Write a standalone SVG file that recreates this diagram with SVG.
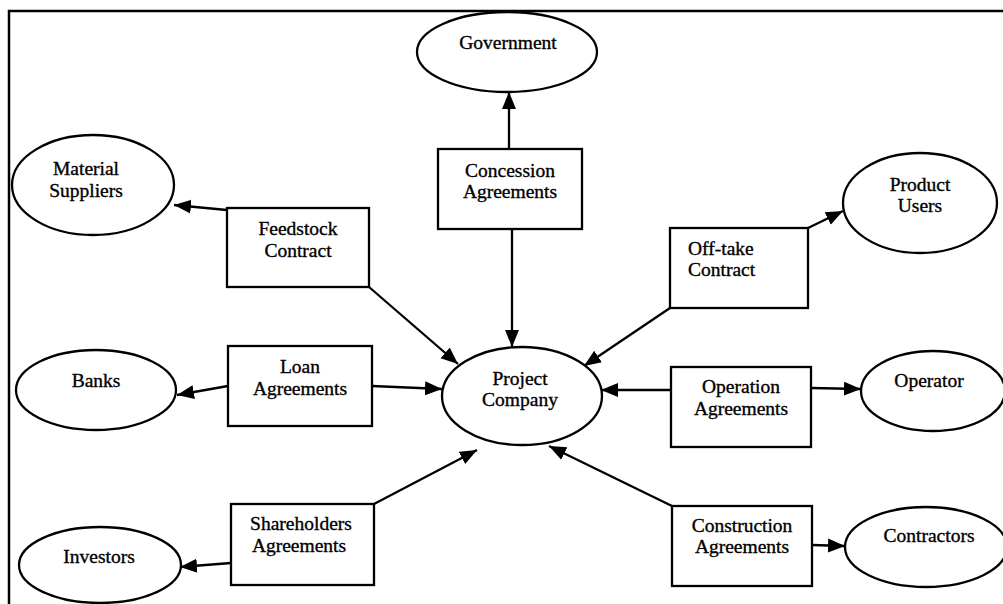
<svg xmlns="http://www.w3.org/2000/svg" width="1003" height="604" viewBox="0 0 1003 604">
<style>
.n{fill:#fff;stroke:#000;stroke-width:2.3}
.t{font-family:"Liberation Serif","Times New Roman",serif;font-size:19.5px;fill:#000;stroke:#000;stroke-width:0.35;text-anchor:middle}
.c{fill:none;stroke:#000;stroke-width:2.3;marker-end:url(#ah)}
</style>
<defs>
<marker id="ah" markerUnits="userSpaceOnUse" markerWidth="18" markerHeight="16" refX="17" refY="8" orient="auto">
<path d="M0,1 L17,8 L0,15 Z" fill="#000"/>
</marker>
</defs>
<rect width="1003" height="604" fill="#fff"/>
<path d="M9,604 V11 H1003" fill="none" stroke="#000" stroke-width="2.5"/>
<g id="connectors">
<line class="c" x1="509" y1="149" x2="509" y2="92"/>
<line class="c" x1="227" y1="210" x2="174" y2="205"/>
<line class="c" x1="369" y1="287" x2="458" y2="364"/>
<line class="c" x1="512" y1="229" x2="512" y2="347"/>
<line class="c" x1="808" y1="228" x2="843" y2="211"/>
<line class="c" x1="670" y1="308" x2="584" y2="366"/>
<line class="c" x1="228" y1="386" x2="177" y2="395"/>
<line class="c" x1="372" y1="386" x2="442" y2="389"/>
<line class="c" x1="671" y1="390" x2="601" y2="390"/>
<line class="c" x1="811" y1="388" x2="861" y2="389"/>
<line class="c" x1="374" y1="504" x2="477" y2="450"/>
<line class="c" x1="231" y1="563" x2="180" y2="567"/>
<line class="c" x1="672" y1="506" x2="549" y2="446"/>
<line class="c" x1="812" y1="545" x2="845" y2="546"/>
</g>
<g id="government"><ellipse class="n" cx="507" cy="52" rx="90" ry="40"/><text class="t" x="508" y="49">Government</text></g>
<g id="material-suppliers"><ellipse class="n" cx="93" cy="185" rx="81" ry="50"/><text class="t" x="86" y="175">Material</text><text class="t" x="86" y="197">Suppliers</text></g>
<g id="feedstock-contract"><rect class="n" x="227" y="208" width="142" height="79"/><text class="t" x="298" y="235">Feedstock</text><text class="t" x="298" y="257">Contract</text></g>
<g id="concession-agreements"><rect class="n" x="438" y="149" width="144" height="80"/><text class="t" x="510" y="177">Concession</text><text class="t" x="510" y="198">Agreements</text></g>
<g id="product-users"><ellipse class="n" cx="920" cy="203" rx="77" ry="50"/><text class="t" x="920" y="191">Product</text><text class="t" x="920" y="212">Users</text></g>
<g id="off-take-contract"><rect class="n" x="670" y="228" width="138" height="80"/><text class="t" x="688" y="255" style="text-anchor:start">Off-take</text><text class="t" x="688" y="276" style="text-anchor:start">Contract</text></g>
<g id="banks"><ellipse class="n" cx="96" cy="390" rx="80" ry="40"/><text class="t" x="96" y="387">Banks</text></g>
<g id="loan-agreements"><rect class="n" x="228" y="346" width="144" height="80"/><text class="t" x="300" y="373">Loan</text><text class="t" x="300" y="395">Agreements</text></g>
<g id="project-company"><ellipse class="n" cx="522" cy="396" rx="80" ry="49"/><text class="t" x="520" y="385">Project</text><text class="t" x="520" y="406">Company</text></g>
<g id="operation-agreements"><rect class="n" x="671" y="367" width="140" height="80"/><text class="t" x="741" y="393">Operation</text><text class="t" x="741" y="415">Agreements</text></g>
<g id="operator"><ellipse class="n" cx="933" cy="391" rx="72" ry="40"/><text class="t" x="929" y="387">Operator</text></g>
<g id="shareholders-agreements"><rect class="n" x="231" y="504" width="143" height="81"/><text class="t" x="301" y="530">Shareholders</text><text class="t" x="299" y="552">Agreements</text></g>
<g id="investors"><ellipse class="n" cx="100" cy="565" rx="81" ry="38"/><text class="t" x="99" y="563">Investors</text></g>
<g id="construction-agreements"><rect class="n" x="672" y="506" width="140" height="80"/><text class="t" x="742" y="532">Construction</text><text class="t" x="742" y="553">Agreements</text></g>
<g id="contractors"><ellipse class="n" cx="926" cy="547" rx="81" ry="40"/><text class="t" x="929" y="542">Contractors</text></g>
</svg>
